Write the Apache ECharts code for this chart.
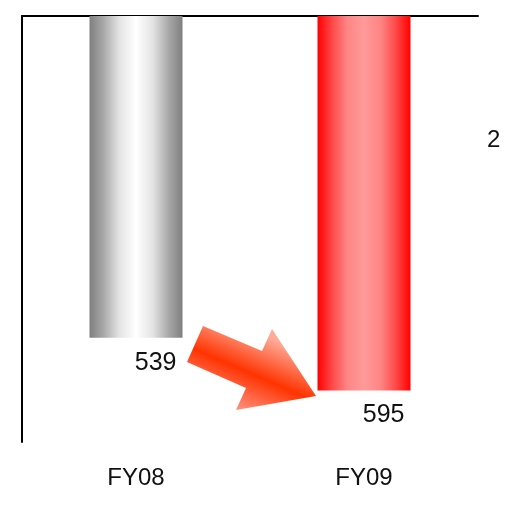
<!DOCTYPE html>
<html>
<head>
<meta charset="utf-8">
<script src="https://cdn.jsdelivr.net/npm/echarts@6/dist/echarts.min.js"></script>
<style>
  html, body { margin: 0; padding: 0; background: #fff; }
  #chart { width: 517px; height: 508px; }
</style>
</head>
<body>
<div id="chart"></div>
<script>
// Fiscal-year comparison, bars hanging from the top axis
const categories = ['FY08', 'FY09'];
const values = [539, 595];
const sideLabel = '2';

const font = 'Liberation Sans, Arial, sans-serif';

// Cylinder-like horizontal shading: dark edges, light centre
function barGradient(stops) {
  return new echarts.graphic.LinearGradient(0, 0, 1, 0,
    stops.map(([offset, color]) => ({ offset, color })));
}
const barFills = [
  barGradient([[0, '#7f7f7f'], [0.15, '#a8a8a8'], [0.32, '#e4e4e4'], [0.5, '#ffffff'],
               [0.68, '#e4e4e4'], [0.85, '#a8a8a8'], [1, '#7f7f7f']]),
  barGradient([[0, '#ff0000'], [0.15, '#ff4545'], [0.32, '#ff8585'], [0.5, '#ff9a9a'],
               [0.68, '#ff8585'], [0.85, '#ff4545'], [1, '#ff0000']])
];

const chart = echarts.init(document.getElementById('chart'), null, { renderer: 'canvas' });

chart.setOption({
  animation: false,
  backgroundColor: '#ffffff',
  grid: { left: 22, right: 39, top: 16, bottom: 66 },
  xAxis: [
    {
      type: 'category',
      data: categories,
      position: 'top',
      axisLine: { lineStyle: { color: '#000', width: 2 } },
      axisTick: { show: false },
      axisLabel: { show: false },
      splitLine: { show: false }
    },
    {
      type: 'category',
      data: categories,
      position: 'bottom',
      axisLine: { show: false },
      axisTick: { show: false },
      axisLabel: { margin: 24, fontSize: 24, color: '#111', fontFamily: font },
      splitLine: { show: false }
    }
  ],
  yAxis: {
    type: 'value',
    inverse: true,
    min: 196,
    max: 650,
    axisLine: { show: true, lineStyle: { color: '#000', width: 2 } },
    axisTick: { show: false },
    axisLabel: { show: false },
    splitLine: { show: false }
  },
  series: [{
    type: 'bar',
    xAxisIndex: 0,
    barWidth: 93,
    data: values.map((v, i) => ({ value: v, itemStyle: { color: barFills[i] } })),
    label: {
      show: true,
      position: ['100%', '100%'],
      align: 'right',
      verticalAlign: 'middle',
      offset: [-6, 25],
      fontSize: 25,
      color: '#111',
      fontFamily: font
    }
  }],
  graphic: [
    {
      type: 'polygon',
      shape: {
        points: [[203, 326], [262, 351], [272, 329], [316, 396], [236, 410], [246, 388], [187, 362]]
      },
      style: {
        fill: new echarts.graphic.LinearGradient(259, 333, 227, 407, [
          { offset: 0, color: '#ffab98' },
          { offset: 0.5, color: '#ff3300' },
          { offset: 1, color: '#ff9585' }
        ], true)
      },
      z: 10
    },
    {
      type: 'text',
      left: 487,
      top: 128,
      style: { text: sideLabel, fontSize: 24, fill: '#111', font: '24px ' + font }
    }
  ]
});
</script>
</body>
</html>
